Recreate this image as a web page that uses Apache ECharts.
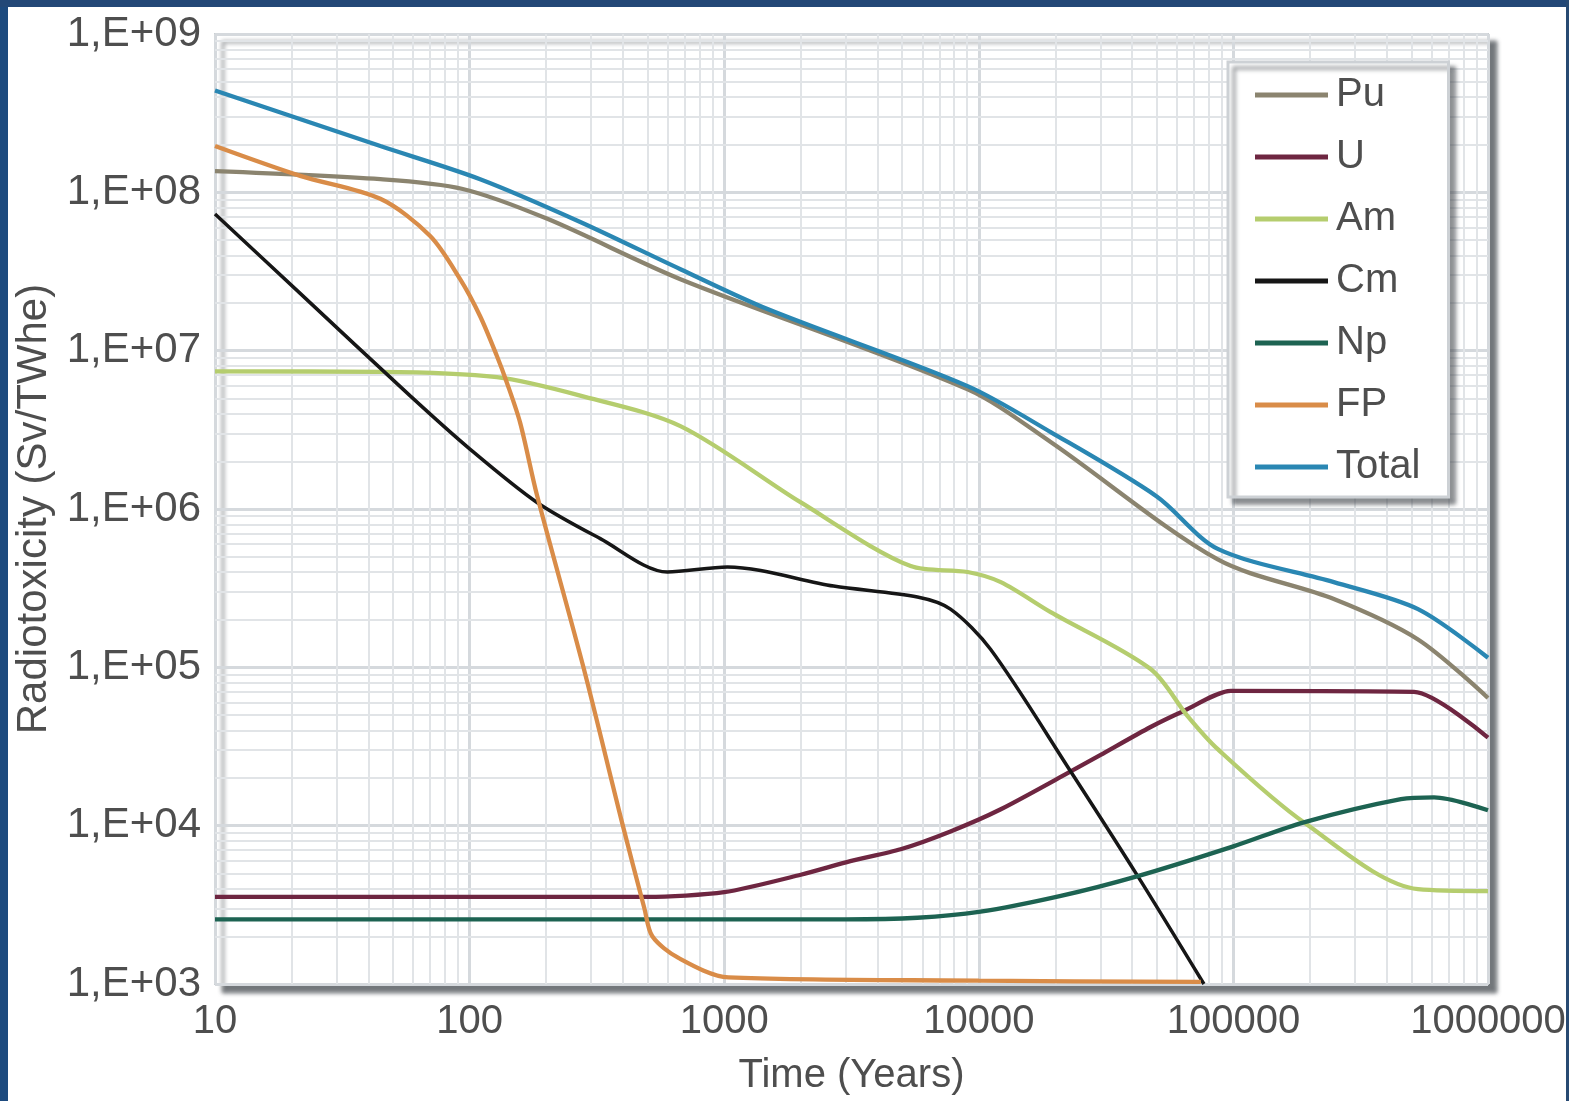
<!DOCTYPE html>
<html>
<head>
<meta charset="utf-8">
<script src="https://cdn.jsdelivr.net/npm/echarts@6/dist/echarts.min.js"></script>
<style>
html,body{margin:0;padding:0;background:#fff;}
#c{width:1569px;height:1101px;}
</style>
</head>
<body>
<div id="c"></div>
<script>
// ---- data ----
var seriesNames = ['Pu', 'U', 'Am', 'Cm', 'Np', 'FP', 'Total'];

var puYears  = [10, 44.6, 94, 202, 673, 9040, 19150, 86800, 248000, 531000, 1000000];
var puValues = [1.36e8, 1.21e8, 1.05e8, 6.8e7, 2.83e7, 5.7e6, 2.65e6, 4.8e5, 2.7e5, 1.5e5, 6.4e4];

var uYears  = [10, 500, 1000, 2000, 3130, 4930, 7740, 12200, 22960, 30100, 47300, 63800, 97700, 512000, 1000000];
var uValues = [3.55e3, 3.55e3, 3.8e3, 4.9e3, 5.97e3, 7.1e3, 9.2e3, 1.27e4, 2.2e4, 2.8e4, 4.2e4, 5.3e4, 7.1e4, 7.0e4, 3.6e4];

var amYears  = [10, 44.6, 128, 272, 673, 2000, 5400, 9040, 12200, 19150, 47300, 66200, 86800, 189000, 531000, 1000000];
var amValues = [7.4e6, 7.35e6, 6.8e6, 5.2e6, 3.34e6, 1.1e6, 4.36e5, 4.0e5, 3.45e5, 2.23e5, 9.75e4, 4.9e4, 3.04e4, 1.05e4, 3.97e3, 3.86e3];

var cmYears  = [10, 21.6, 58.3, 100, 184, 326, 598, 1030, 2690, 5740, 7740, 11120, 22960, 42100, 76600];
var cmValues = [7.3e7, 2.3e7, 5.2e6, 2.4e6, 1.1e6, 6.5e5, 4.0e5, 4.3e5, 3.26e5, 2.78e5, 2.33e5, 1.3e5, 2.2e4, 4.8e3, 1.0e3];

var npYears  = [10, 3000, 5740, 10000, 21000, 42100, 100000, 189000, 455000, 614000, 1000000];
var npValues = [2.56e3, 2.56e3, 2.62e3, 2.85e3, 3.6e3, 4.8e3, 7.4e3, 1.05e4, 1.47e4, 1.51e4, 1.25e4];

var fpYears  = [10, 21.6, 44.6, 70, 91.8, 110, 128, 140, 158, 184, 280, 395, 486, 522, 661, 1040, 10000, 74500];
var fpValues = [1.96e8, 1.27e8, 9.1e7, 5.3e7, 2.83e7, 1.65e7, 9.25e6, 6.3e6, 3.5e6, 1.22e6, 1.0e5, 1.08e4, 3.0e3, 2.0e3, 1.46e3, 1.1e3, 1.05e3, 1.03e3];

var totalYears  = [10, 44.6, 110, 272, 673, 1480, 9040, 19150, 50000, 86800, 248000, 531000, 1000000];
var totalValues = [4.4e8, 1.96e8, 1.21e8, 6.5e7, 3.27e7, 1.83e7, 5.97e6, 3.06e6, 1.2e6, 5.6e5, 3.45e5, 2.33e5, 1.15e5];

var xTickLabels = {10: '10', 100: '100', 1000: '1000', 10000: '10000', 100000: '100000', 1000000: '1000000'};
var yTickLabels = {3: '1,E+03', 4: '1,E+04', 5: '1,E+05', 6: '1,E+06', 7: '1,E+07', 8: '1,E+08', 9: '1,E+09'};

var xTitle = 'Time (Years)';
var yTitle = 'Radiotoxicity (Sv/TWhe)';

// ---- build ----
function zip(a, b) { return a.map(function (v, i) { return [v, b[i]]; }); }

var colors = {
  Pu: '#8b846f', U: '#6e2641', Am: '#b5cd6e', Cm: '#161616',
  Np: '#1d6352', FP: '#d98c48', Total: '#2a87b3'
};
var dataMap = {
  Pu: zip(puYears, puValues), U: zip(uYears, uValues), Am: zip(amYears, amValues),
  Cm: zip(cmYears, cmValues), Np: zip(npYears, npValues), FP: zip(fpYears, fpValues),
  Total: zip(totalYears, totalValues)
};
var smoothMap = {Pu: 0.3, U: 0.25, Am: 0.3, Cm: 0.3, Np: 0.3, FP: 0.3, Total: 0.3};

// minor grid positions (2..9 x 10^n)
var minorX = [], minorY = [];
for (var e = 1; e < 6; e++) for (var k = 2; k < 10; k++) minorX.push({xAxis: k * Math.pow(10, e)});
for (var e2 = 3; e2 < 9; e2++) for (var k2 = 2; k2 < 10; k2++) minorY.push({yAxis: k2 * Math.pow(10, e2)});

var FONT = '"Liberation Sans", Arial, sans-serif';
var TXT = '#4e4e4e';

var series = [{
  name: '_grid', type: 'line', data: [[10, 1000]], symbol: 'none', silent: true,
  lineStyle: {width: 0}, z: 1, legendHoverLink: false,
  markLine: {
    silent: true, z: 1, symbol: ['none', 'none'], label: {show: false}, animation: false,
    lineStyle: {color: '#e1e4e7', width: 2, type: 'solid'},
    emphasis: {disabled: true},
    data: minorX.concat(minorY)
  }
}];
seriesNames.forEach(function (n) {
  series.push({
    name: n, type: 'line', data: dataMap[n], showSymbol: false, symbol: 'none',
    smooth: smoothMap[n], color: colors[n], z: 3,
    lineStyle: {color: colors[n], width: n === 'Cm' ? 3.5 : 4.3},
    emphasis: {disabled: true}
  });
});

var chart = echarts.init(document.getElementById('c'));
chart.setOption({
  animation: false,
  backgroundColor: '#ffffff',
  grid: {
    left: 215, right: 81, top: 34, bottom: 116,
    show: true, backgroundColor: '#ffffff', borderColor: '#c9ced2', borderWidth: 2,
    shadowColor: 'rgba(70,75,80,0.75)', shadowOffsetX: 8, shadowOffsetY: 8, shadowBlur: 4
  },
  legend: {
    data: seriesNames, orient: 'vertical', left: 1228, top: 62, z: 10,
    icon: 'rect', itemWidth: 73, itemHeight: 5, itemGap: 22,
    padding: [13, 28, 10, 27],
    backgroundColor: '#ffffff', borderColor: '#cdd1d5', borderWidth: 3,
    shadowColor: 'rgba(70,75,80,0.6)', shadowOffsetX: 6, shadowOffsetY: 6, shadowBlur: 4,
    textStyle: {fontSize: 40, color: TXT, fontFamily: FONT, lineHeight: 40, padding: [0, 0, 0, 3]},
    selectedMode: false
  },
  xAxis: {
    type: 'log', logBase: 10, min: 10, max: 1000000,
    name: xTitle, nameLocation: 'middle', nameGap: 72,
    nameTextStyle: {fontSize: 40, color: TXT, fontFamily: FONT},
    axisLine: {show: false}, axisTick: {show: false},
    axisLabel: {
      fontSize: 40, color: TXT, fontFamily: FONT, margin: 18,
      formatter: function (v) { return xTickLabels[Math.round(v)] || ''; }
    },
    splitLine: {show: true, lineStyle: {color: '#d5d9dd', width: 3}}
  },
  yAxis: {
    type: 'log', logBase: 10, min: 1000, max: 1e9,
    name: yTitle, nameLocation: 'middle', nameGap: 160, nameRotate: 90,
    nameTextStyle: {fontSize: 42, color: TXT, fontFamily: FONT},
    axisLine: {show: false}, axisTick: {show: false},
    axisLabel: {
      fontSize: 42, color: TXT, fontFamily: FONT, margin: 14,
      formatter: function (v) { return yTickLabels[Math.round(Math.log10(v))] || ''; }
    },
    splitLine: {show: true, lineStyle: {color: '#d5d9dd', width: 3}}
  },
  graphic: [
    {type: 'rect', left: 0, top: 0, z: 100, shape: {width: 8, height: 1101}, style: {fill: '#1d4a7e'}},
    {type: 'rect', left: 0, top: 0, z: 100, shape: {width: 1569, height: 7}, style: {fill: '#234877'}},
    {type: 'rect', right: 0, top: 0, z: 100, shape: {width: 3, height: 1101}, style: {fill: '#284a72'}}
  ],
  series: series
});
</script>
</body>
</html>
